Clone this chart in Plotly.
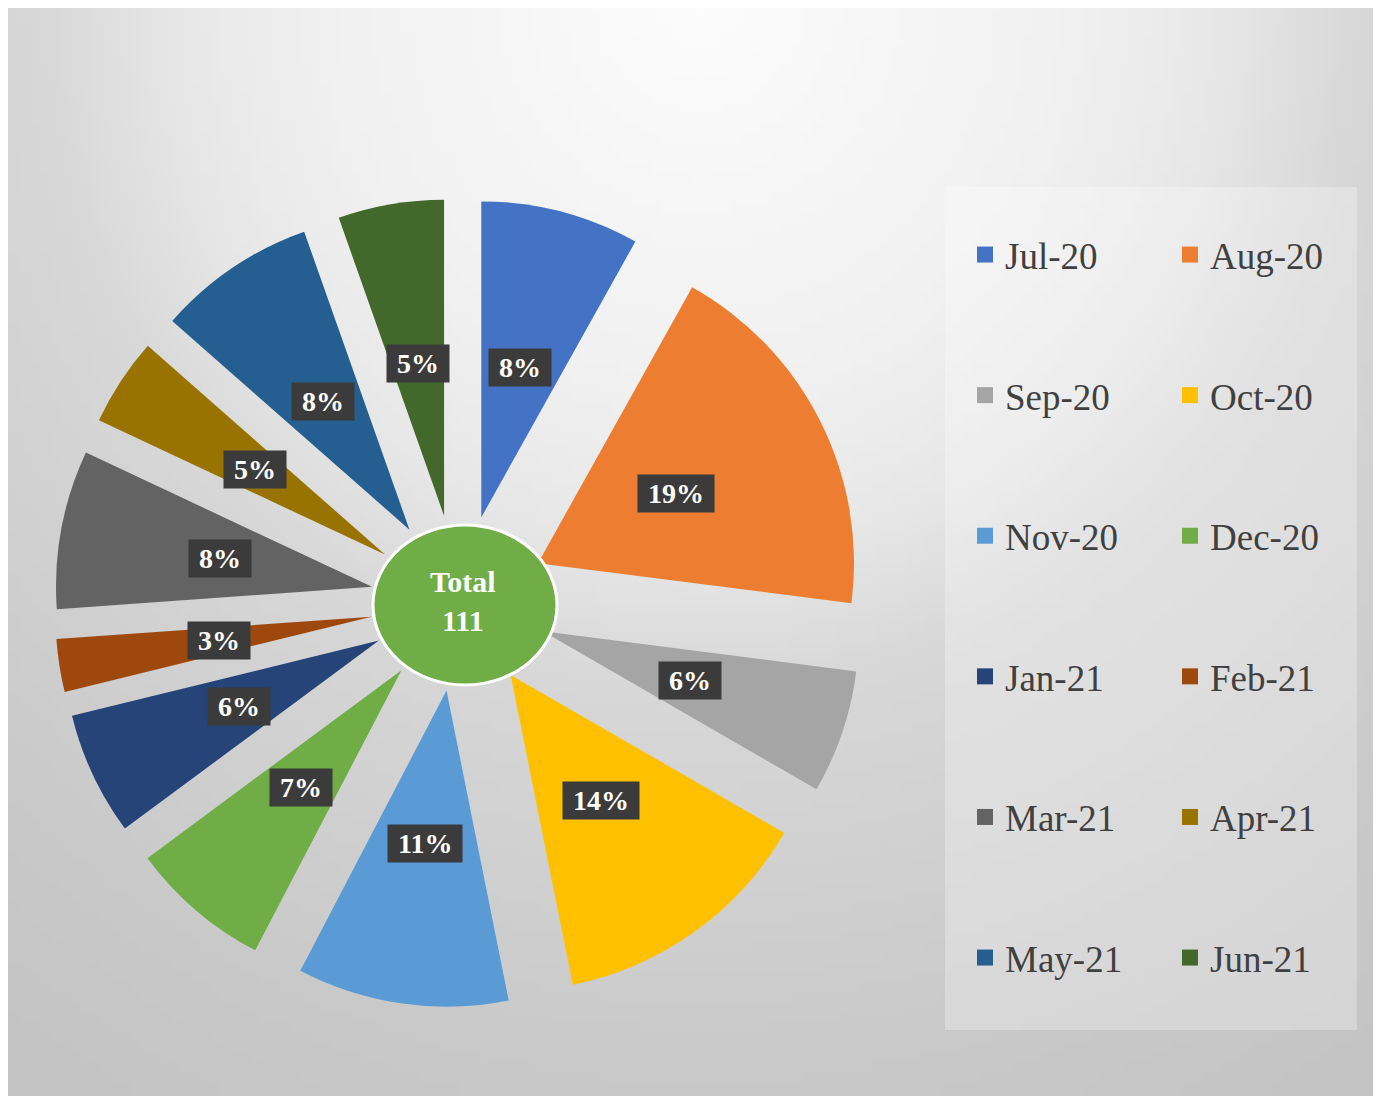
import math
import zlib
import struct
import base64
import plotly.graph_objects as go

# ---------------- data ----------------
months = ["Jul-20", "Aug-20", "Sep-20", "Oct-20", "Nov-20", "Dec-20",
          "Jan-21", "Feb-21", "Mar-21", "Apr-21", "May-21", "Jun-21"]
counts = [9, 21, 7, 15, 12, 8, 7, 3, 9, 5, 9, 6]
colors = ["#4472C4", "#ED7D31", "#A5A5A5", "#FFC000", "#5B9BD5", "#70AD47",
          "#264478", "#9E480E", "#636363", "#997300", "#255E91", "#43682B"]
center_title = "Total"

# ---------------- geometry (screen pixels) ----------------
OFF = 8                      # page body margin
W, H = 1381 - OFF, 1097 - OFF
PULL = 0.28
CX, CY = 459, 603
R = 316
OUT = R * (1 + PULL)
LABEL_R = R * (PULL + 0.49)


def px(x):
    return (x - OFF) / W


def py(y):
    return 1 - (y - OFF) / H


# ---------------- gradient background as png ----------------
def make_png(w, h, rows):
    raw = b"".join(b"\x00" + bytes(r) for r in rows)

    def chunk(t, d):
        c = struct.pack(">I", len(d)) + t + d
        return c + struct.pack(">I", zlib.crc32(t + d) & 0xFFFFFFFF)

    return (b"\x89PNG\r\n\x1a\n"
            + chunk(b"IHDR", struct.pack(">IIBBBBB", w, h, 8, 0, 0, 0, 0))
            + chunk(b"IDAT", zlib.compress(raw, 9))
            + chunk(b"IEND", b""))


stops = [(0, 252), (400, 240), (550, 231), (700, 215), (1100, 200), (1350, 194)]


def gray(r):
    if r <= stops[0][0]:
        return stops[0][1]
    for (r0, g0), (r1, g1) in zip(stops[:-1], stops[1:]):
        if r <= r1:
            return g0 + (g1 - g0) * (r - r0) / (r1 - r0)
    return stops[-1][1]


BX0, BY0, BX1, BY1 = 6, 8, 1376, 1096
GW, GH = 137, 109
rows = []
for j in range(GH):
    yy = BY0 + (j + 0.5) * (BY1 - BY0) / GH
    row = []
    for i in range(GW):
        xx = BX0 + (i + 0.5) * (BX1 - BX0) / GW
        r = math.hypot((xx - 700) * 1.05, yy)
        row.append(int(round(gray(r))))
    rows.append(row)
uri = "data:image/png;base64," + base64.b64encode(make_png(GW, GH, rows)).decode()

# ---------------- figure ----------------
fig = go.Figure()

fig.add_trace(go.Pie(
    labels=months, values=counts, sort=False, direction="clockwise", rotation=0,
    pull=[PULL] * len(months),
    marker=dict(colors=colors, line=dict(width=0)),
    textinfo="none", showlegend=False,
    domain=dict(x=[px(CX - OUT), px(CX + OUT)], y=[py(CY + OUT), py(CY - OUT)]),
))

# legend entries (two columns)
for i, (m, c) in enumerate(zip(months, colors)):
    fig.add_trace(go.Scatter(
        x=[None], y=[None], mode="markers", name=m,
        marker=dict(symbol="square", size=16, color=c),
        legend="legend" if i % 2 == 0 else "legend2",
        legendgroup=m, hoverinfo="skip",
    ))

# percentage labels
NB = "\u00a0"
total = sum(counts)
cum = 0
for m, v in zip(months, counts):
    mid = (cum + v / 2) / total * 2 * math.pi
    cum += v
    lx = CX + LABEL_R * math.sin(mid)
    ly = CY - LABEL_R * math.cos(mid)
    fig.add_annotation(
        x=px(lx), y=py(ly), xref="paper", yref="paper", showarrow=False,
        xanchor="center", yanchor="middle",
        text=f"<b>{NB}{round(v / total * 100)}%{NB}</b>",
        font=dict(family="Liberation Serif", size=28, color="white"),
        bgcolor="#3b3b3b", borderpad=3,
    )

# center circle + total
fig.add_shape(type="circle", xref="paper", yref="paper",
              x0=px(373), x1=px(557), y0=py(685), y1=py(525),
              fillcolor="#70AD47", line=dict(color="white", width=3), layer="above")
fig.add_annotation(x=px(463), y=py(601), xref="paper", yref="paper", showarrow=False,
                   xanchor="center", yanchor="middle",
                   text=f"<b>{center_title}<br>{total}</b>",
                   font=dict(family="Liberation Serif", size=30, color="white"))

# legend panel
fig.add_shape(type="rect", xref="paper", yref="paper",
              x0=px(945), x1=px(1357), y0=py(1030), y1=py(187),
              fillcolor="rgba(255,255,255,0.28)", line=dict(width=0), layer="below")

leg = dict(font=dict(family="Liberation Serif", size=37, color="#404040"),
           bgcolor="rgba(0,0,0,0)", tracegroupgap=89.5, traceorder="grouped",
           xanchor="left", yanchor="top", y=py(224), itemwidth=30)

fig.update_layout(
    width=W, height=H,
    margin=dict(l=0, r=0, t=0, b=0),
    paper_bgcolor="white", plot_bgcolor="rgba(0,0,0,0)",
    xaxis=dict(visible=False), yaxis=dict(visible=False),
    legend=dict(leg, x=px(965)),
    legend2=dict(leg, x=px(1170)),
    images=[dict(source=uri, xref="paper", yref="paper", x=px(BX0), y=py(BY0),
                 sizex=(BX1 - BX0) / W, sizey=(BY1 - BY0) / H,
                 xanchor="left", yanchor="top", sizing="stretch", layer="below")],
)

fig.write_html("out.html")
